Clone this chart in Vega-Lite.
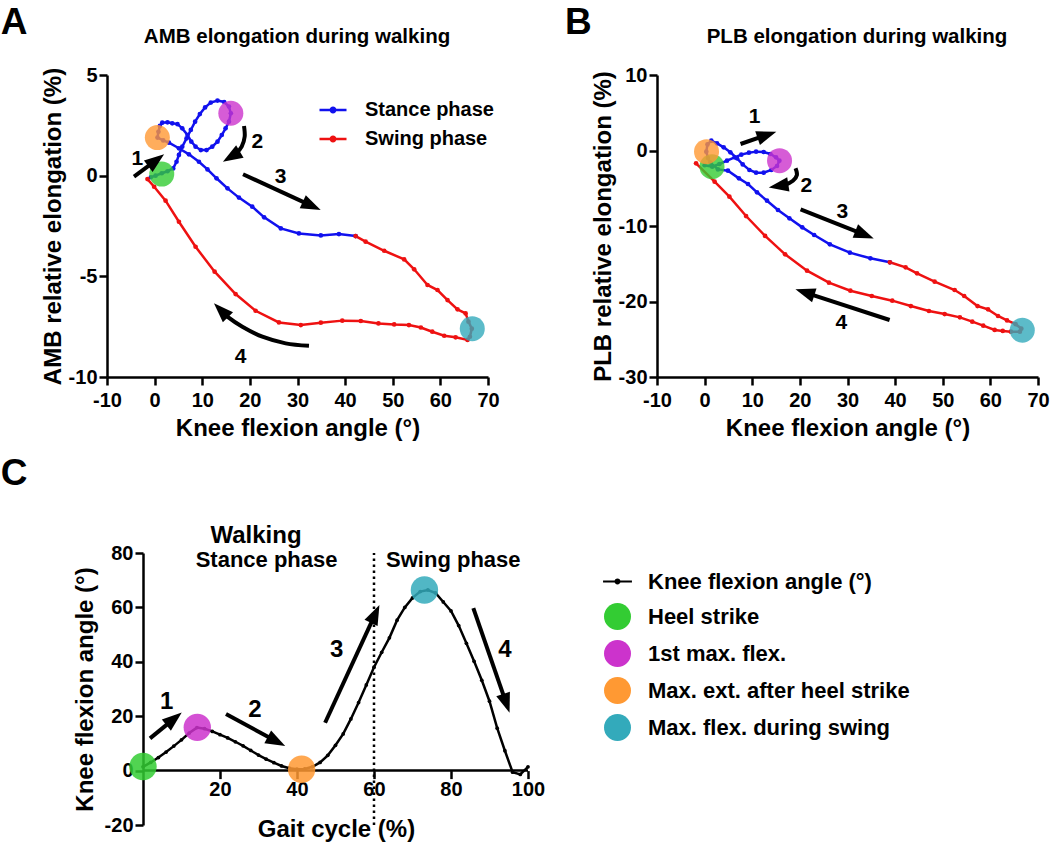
{
"$schema": "https://vega.github.io/schema/vega-lite/v6.json",
"autosize": "none",
"padding": {"left": 107, "top": 75, "right": 943, "bottom": 774},
"background": "white",
"config": {
  "font": "Liberation Sans",
  "view": {"stroke": null},
  "axis": {"domainColor": "black", "domainWidth": 2.5, "tickColor": "black", "tickWidth": 2.5, "tickSize": 8, "labelFont": "Liberation Sans", "labelFontSize": 20, "labelFontWeight": "bold", "labelColor": "black", "titleFont": "Liberation Sans", "titleFontSize": 24, "titleFontWeight": "bold", "titleColor": "black", "grid": false, "labelOverlap": false, "labelFlush": false, "labelExpr": "replace(datum.label, '−', '-')"},
  "legend": {"labelFont": "Liberation Sans", "labelFontWeight": "bold", "labelColor": "black", "padding": 0, "labelLimit": 400},
  "text": {"font": "Liberation Sans", "fontWeight": "bold", "color": "black"}
},
"datasets": {
  "curves": [
    {"p":"A","ph":"Stance phase","s":1,"x":-0.8,"y":-0.08},
    {"p":"A","ph":"Stance phase","s":2,"x":0.2,"y":0.0},
    {"p":"A","ph":"Stance phase","s":3,"x":1.5,"y":0.12},
    {"p":"A","ph":"Stance phase","s":4,"x":2.7,"y":0.22},
    {"p":"A","ph":"Stance phase","s":5,"x":3.9,"y":0.36},
    {"p":"A","ph":"Stance phase","s":6,"x":4.6,"y":0.69},
    {"p":"A","ph":"Stance phase","s":7,"x":5.1,"y":1.03},
    {"p":"A","ph":"Stance phase","s":8,"x":5.8,"y":1.44},
    {"p":"A","ph":"Stance phase","s":9,"x":6.7,"y":1.85},
    {"p":"A","ph":"Stance phase","s":10,"x":7.6,"y":2.27},
    {"p":"A","ph":"Stance phase","s":11,"x":8.5,"y":2.68},
    {"p":"A","ph":"Stance phase","s":12,"x":9.5,"y":3.06},
    {"p":"A","ph":"Stance phase","s":13,"x":10.6,"y":3.39},
    {"p":"A","ph":"Stance phase","s":14,"x":11.8,"y":3.63},
    {"p":"A","ph":"Stance phase","s":15,"x":13.2,"y":3.73},
    {"p":"A","ph":"Stance phase","s":16,"x":14.6,"y":3.66},
    {"p":"A","ph":"Stance phase","s":17,"x":15.6,"y":3.43},
    {"p":"A","ph":"Stance phase","s":18,"x":16.0,"y":3.10},
    {"p":"A","ph":"Stance phase","s":19,"x":15.6,"y":2.68},
    {"p":"A","ph":"Stance phase","s":20,"x":14.9,"y":2.35},
    {"p":"A","ph":"Stance phase","s":21,"x":14.1,"y":2.02},
    {"p":"A","ph":"Stance phase","s":22,"x":13.2,"y":1.69},
    {"p":"A","ph":"Stance phase","s":23,"x":12.1,"y":1.44},
    {"p":"A","ph":"Stance phase","s":24,"x":10.9,"y":1.27},
    {"p":"A","ph":"Stance phase","s":25,"x":9.7,"y":1.27},
    {"p":"A","ph":"Stance phase","s":26,"x":8.6,"y":1.44},
    {"p":"A","ph":"Stance phase","s":27,"x":7.7,"y":1.69},
    {"p":"A","ph":"Stance phase","s":28,"x":6.9,"y":2.02},
    {"p":"A","ph":"Stance phase","s":29,"x":5.8,"y":2.35},
    {"p":"A","ph":"Stance phase","s":30,"x":4.8,"y":2.56},
    {"p":"A","ph":"Stance phase","s":31,"x":3.7,"y":2.60},
    {"p":"A","ph":"Stance phase","s":32,"x":2.7,"y":2.65},
    {"p":"A","ph":"Stance phase","s":33,"x":1.6,"y":2.63},
    {"p":"A","ph":"Stance phase","s":34,"x":1.1,"y":2.47},
    {"p":"A","ph":"Stance phase","s":35,"x":0.8,"y":2.18},
    {"p":"A","ph":"Stance phase","s":36,"x":0.6,"y":1.89},
    {"p":"A","ph":"Stance phase","s":37,"x":1.8,"y":1.75},
    {"p":"A","ph":"Stance phase","s":38,"x":3.0,"y":1.64},
    {"p":"A","ph":"Stance phase","s":39,"x":5.1,"y":1.36},
    {"p":"A","ph":"Stance phase","s":40,"x":7.2,"y":1.06},
    {"p":"A","ph":"Stance phase","s":41,"x":9.3,"y":0.69},
    {"p":"A","ph":"Stance phase","s":42,"x":11.1,"y":0.31},
    {"p":"A","ph":"Stance phase","s":43,"x":13.0,"y":-0.13},
    {"p":"A","ph":"Stance phase","s":44,"x":15.3,"y":-0.63},
    {"p":"A","ph":"Stance phase","s":45,"x":17.7,"y":-1.09},
    {"p":"A","ph":"Stance phase","s":46,"x":20.5,"y":-1.54},
    {"p":"A","ph":"Stance phase","s":47,"x":23.0,"y":-2.07},
    {"p":"A","ph":"Stance phase","s":48,"x":26.5,"y":-2.62},
    {"p":"A","ph":"Stance phase","s":49,"x":30.3,"y":-2.87},
    {"p":"A","ph":"Stance phase","s":50,"x":34.9,"y":-2.97},
    {"p":"A","ph":"Stance phase","s":51,"x":38.7,"y":-2.90},
    {"p":"A","ph":"Stance phase","s":52,"x":42.2,"y":-3.00},
    {"p":"A","ph":"Swing phase","s":1,"x":42.2,"y":-3.00},
    {"p":"A","ph":"Swing phase","s":2,"x":44.3,"y":-3.28},
    {"p":"A","ph":"Swing phase","s":3,"x":48.2,"y":-3.73},
    {"p":"A","ph":"Swing phase","s":4,"x":52.4,"y":-4.16},
    {"p":"A","ph":"Swing phase","s":5,"x":54.5,"y":-4.65},
    {"p":"A","ph":"Swing phase","s":6,"x":57.3,"y":-5.43},
    {"p":"A","ph":"Swing phase","s":7,"x":59.4,"y":-5.68},
    {"p":"A","ph":"Swing phase","s":8,"x":61.5,"y":-6.18},
    {"p":"A","ph":"Swing phase","s":9,"x":63.6,"y":-6.64},
    {"p":"A","ph":"Swing phase","s":10,"x":65.3,"y":-6.84},
    {"p":"A","ph":"Swing phase","s":11,"x":65.9,"y":-7.25},
    {"p":"A","ph":"Swing phase","s":12,"x":66.6,"y":-7.60},
    {"p":"A","ph":"Swing phase","s":13,"x":66.2,"y":-8.00},
    {"p":"A","ph":"Swing phase","s":14,"x":65.7,"y":-8.16},
    {"p":"A","ph":"Swing phase","s":15,"x":63.2,"y":-8.03},
    {"p":"A","ph":"Swing phase","s":16,"x":60.8,"y":-7.95},
    {"p":"A","ph":"Swing phase","s":17,"x":58.3,"y":-7.75},
    {"p":"A","ph":"Swing phase","s":18,"x":55.9,"y":-7.54},
    {"p":"A","ph":"Swing phase","s":19,"x":53.4,"y":-7.42},
    {"p":"A","ph":"Swing phase","s":20,"x":50.3,"y":-7.39},
    {"p":"A","ph":"Swing phase","s":21,"x":47.0,"y":-7.34},
    {"p":"A","ph":"Swing phase","s":22,"x":43.3,"y":-7.22},
    {"p":"A","ph":"Swing phase","s":23,"x":39.4,"y":-7.20},
    {"p":"A","ph":"Swing phase","s":24,"x":34.9,"y":-7.30},
    {"p":"A","ph":"Swing phase","s":25,"x":30.7,"y":-7.42},
    {"p":"A","ph":"Swing phase","s":26,"x":26.1,"y":-7.29},
    {"p":"A","ph":"Swing phase","s":27,"x":21.2,"y":-6.71},
    {"p":"A","ph":"Swing phase","s":28,"x":17.0,"y":-5.88},
    {"p":"A","ph":"Swing phase","s":29,"x":12.6,"y":-4.77},
    {"p":"A","ph":"Swing phase","s":30,"x":8.6,"y":-3.53},
    {"p":"A","ph":"Swing phase","s":31,"x":5.1,"y":-2.29},
    {"p":"A","ph":"Swing phase","s":32,"x":2.3,"y":-1.24},
    {"p":"A","ph":"Swing phase","s":33,"x":-0.1,"y":-0.55},
    {"p":"A","ph":"Swing phase","s":34,"x":-1.5,"y":-0.17},
    {"p":"B","ph":"Stance phase","s":1,"x":0.0,"y":-1.95},
    {"p":"B","ph":"Stance phase","s":2,"x":1.6,"y":-2.14},
    {"p":"B","ph":"Stance phase","s":3,"x":3.1,"y":-1.79},
    {"p":"B","ph":"Stance phase","s":4,"x":4.7,"y":-1.35},
    {"p":"B","ph":"Stance phase","s":5,"x":6.3,"y":-0.91},
    {"p":"B","ph":"Stance phase","s":6,"x":7.7,"y":-0.55},
    {"p":"B","ph":"Stance phase","s":7,"x":9.3,"y":-0.29},
    {"p":"B","ph":"Stance phase","s":8,"x":10.8,"y":-0.15},
    {"p":"B","ph":"Stance phase","s":9,"x":12.4,"y":-0.20},
    {"p":"B","ph":"Stance phase","s":10,"x":13.8,"y":-0.46},
    {"p":"B","ph":"Stance phase","s":11,"x":15.0,"y":-0.91},
    {"p":"B","ph":"Stance phase","s":12,"x":15.7,"y":-1.35},
    {"p":"B","ph":"Stance phase","s":13,"x":15.2,"y":-2.05},
    {"p":"B","ph":"Stance phase","s":14,"x":14.0,"y":-2.58},
    {"p":"B","ph":"Stance phase","s":15,"x":12.4,"y":-2.94},
    {"p":"B","ph":"Stance phase","s":16,"x":10.8,"y":-2.94},
    {"p":"B","ph":"Stance phase","s":17,"x":9.4,"y":-2.58},
    {"p":"B","ph":"Stance phase","s":18,"x":8.0,"y":-1.84},
    {"p":"B","ph":"Stance phase","s":19,"x":6.8,"y":-1.04},
    {"p":"B","ph":"Stance phase","s":20,"x":5.4,"y":-0.24},
    {"p":"B","ph":"Stance phase","s":21,"x":4.0,"y":0.42},
    {"p":"B","ph":"Stance phase","s":22,"x":2.6,"y":0.95},
    {"p":"B","ph":"Stance phase","s":23,"x":1.4,"y":1.30},
    {"p":"B","ph":"Stance phase","s":24,"x":0.6,"y":0.80},
    {"p":"B","ph":"Stance phase","s":25,"x":0.35,"y":-0.15},
    {"p":"B","ph":"Stance phase","s":26,"x":0.7,"y":-1.0},
    {"p":"B","ph":"Stance phase","s":27,"x":1.2,"y":-1.6},
    {"p":"B","ph":"Stance phase","s":28,"x":2.8,"y":-2.5},
    {"p":"B","ph":"Stance phase","s":29,"x":4.9,"y":-2.67},
    {"p":"B","ph":"Stance phase","s":30,"x":7.2,"y":-3.69},
    {"p":"B","ph":"Stance phase","s":31,"x":9.1,"y":-4.44},
    {"p":"B","ph":"Stance phase","s":32,"x":11.0,"y":-5.54},
    {"p":"B","ph":"Stance phase","s":33,"x":13.1,"y":-6.65},
    {"p":"B","ph":"Stance phase","s":34,"x":15.4,"y":-7.88},
    {"p":"B","ph":"Stance phase","s":35,"x":17.8,"y":-8.98},
    {"p":"B","ph":"Stance phase","s":36,"x":20.5,"y":-10.18},
    {"p":"B","ph":"Stance phase","s":37,"x":23.0,"y":-11.19},
    {"p":"B","ph":"Stance phase","s":38,"x":26.3,"y":-12.43},
    {"p":"B","ph":"Stance phase","s":39,"x":30.5,"y":-13.53},
    {"p":"B","ph":"Stance phase","s":40,"x":34.8,"y":-14.28},
    {"p":"B","ph":"Stance phase","s":41,"x":38.9,"y":-14.81},
    {"p":"B","ph":"Swing phase","s":1,"x":38.9,"y":-14.81},
    {"p":"B","ph":"Swing phase","s":2,"x":42.2,"y":-15.47},
    {"p":"B","ph":"Swing phase","s":3,"x":44.6,"y":-16.27},
    {"p":"B","ph":"Swing phase","s":4,"x":48.3,"y":-17.37},
    {"p":"B","ph":"Swing phase","s":5,"x":52.5,"y":-18.48},
    {"p":"B","ph":"Swing phase","s":6,"x":54.5,"y":-19.27},
    {"p":"B","ph":"Swing phase","s":7,"x":57.3,"y":-20.60},
    {"p":"B","ph":"Swing phase","s":8,"x":59.5,"y":-21.04},
    {"p":"B","ph":"Swing phase","s":9,"x":61.6,"y":-21.92},
    {"p":"B","ph":"Swing phase","s":10,"x":63.5,"y":-22.5},
    {"p":"B","ph":"Swing phase","s":11,"x":65.3,"y":-23.0},
    {"p":"B","ph":"Swing phase","s":12,"x":66.5,"y":-23.6},
    {"p":"B","ph":"Swing phase","s":13,"x":66.2,"y":-24.0},
    {"p":"B","ph":"Swing phase","s":14,"x":64.3,"y":-24.0},
    {"p":"B","ph":"Swing phase","s":15,"x":62.6,"y":-23.9},
    {"p":"B","ph":"Swing phase","s":16,"x":60.9,"y":-23.77},
    {"p":"B","ph":"Swing phase","s":17,"x":58.5,"y":-23.20},
    {"p":"B","ph":"Swing phase","s":18,"x":56.2,"y":-22.67},
    {"p":"B","ph":"Swing phase","s":19,"x":53.6,"y":-22.10},
    {"p":"B","ph":"Swing phase","s":20,"x":50.4,"y":-21.66},
    {"p":"B","ph":"Swing phase","s":21,"x":47.1,"y":-21.26},
    {"p":"B","ph":"Swing phase","s":22,"x":43.3,"y":-20.60},
    {"p":"B","ph":"Swing phase","s":23,"x":39.4,"y":-19.89},
    {"p":"B","ph":"Swing phase","s":24,"x":35.1,"y":-19.27},
    {"p":"B","ph":"Swing phase","s":25,"x":30.6,"y":-18.57},
    {"p":"B","ph":"Swing phase","s":26,"x":26.1,"y":-17.51},
    {"p":"B","ph":"Swing phase","s":27,"x":21.5,"y":-15.92},
    {"p":"B","ph":"Swing phase","s":28,"x":16.9,"y":-13.75},
    {"p":"B","ph":"Swing phase","s":29,"x":12.7,"y":-11.32},
    {"p":"B","ph":"Swing phase","s":30,"x":8.7,"y":-8.68},
    {"p":"B","ph":"Swing phase","s":31,"x":5.2,"y":-6.11},
    {"p":"B","ph":"Swing phase","s":32,"x":2.1,"y":-4.13},
    {"p":"B","ph":"Swing phase","s":33,"x":-1.8,"y":-1.70}
  ],
  "events": [
    {"p":"A","ev":"Heel strike","x":1.5,"y":0.08},
    {"p":"A","ev":"1st max. flex.","x":16.0,"y":3.1},
    {"p":"A","ev":"Max. ext. after heel strike","x":0.57,"y":1.89},
    {"p":"A","ev":"Max. flex. during swing","x":66.7,"y":-7.6},
    {"p":"B","ev":"Heel strike","x":1.55,"y":-2.14},
    {"p":"B","ev":"1st max. flex.","x":15.73,"y":-1.35},
    {"p":"B","ev":"Max. ext. after heel strike","x":0.4,"y":-0.15},
    {"p":"B","ev":"Max. flex. during swing","x":66.7,"y":-23.8},
    {"p":"C","ev":"Heel strike","x":0,"y":1.5},
    {"p":"C","ev":"1st max. flex.","x":14.1,"y":15.9},
    {"p":"C","ev":"Max. ext. after heel strike","x":41.2,"y":0.5},
    {"p":"C","ev":"Max. flex. during swing","x":73.1,"y":66.4}
  ],
  "knee": [
    {"x":0,"y":1.4},{"x":2,"y":3.0},{"x":4,"y":4.8},{"x":6,"y":6.8},{"x":8,"y":9.0},{"x":10,"y":11.3},
    {"x":12,"y":13.8},{"x":14,"y":15.8},{"x":16,"y":15.4},{"x":18,"y":14.4},{"x":20,"y":13.2},{"x":22,"y":12.0},
    {"x":24,"y":10.6},{"x":26,"y":9.1},{"x":28,"y":7.4},{"x":30,"y":5.7},{"x":32,"y":4.2},{"x":34,"y":2.9},
    {"x":36,"y":1.7},{"x":38,"y":0.9},{"x":40,"y":0.5},{"x":42,"y":0.6},{"x":44,"y":1.4},{"x":46,"y":3.0},
    {"x":48,"y":5.6},{"x":50,"y":9.3},{"x":52,"y":13.5},{"x":54,"y":19.0},{"x":56,"y":25.0},{"x":58,"y":31.5},
    {"x":60,"y":38.0},{"x":62,"y":43.5},{"x":64,"y":48.8},{"x":66,"y":55.3},{"x":68,"y":60.0},{"x":70,"y":63.5},
    {"x":72,"y":65.8},{"x":74,"y":66.4},{"x":76,"y":65.3},{"x":78,"y":62.0},{"x":80,"y":58.7},{"x":82,"y":53.3},
    {"x":84,"y":46.8},{"x":86,"y":40.2},{"x":88,"y":33.2},{"x":90,"y":25.5},{"x":92,"y":15.6},{"x":94,"y":7.3},
    {"x":96,"y":-0.6},{"x":98,"y":-1.4},{"x":100,"y":1.4}
  ],
  "vline": [{"x":60,"y":-20,"y2":80}],
  "hline": [{"x":0,"x2":100,"y":0}],
  "arrows": [
    {"p":"A","a":1,"s":1,"x":-4.33,"y":-0.05},{"p":"A","a":1,"s":2,"x":0.63,"y":0.82},
    {"p":"A","a":2,"s":1,"x":18.77,"y":2.47},{"p":"A","a":2,"s":2,"x":18.91,"y":1.94},{"p":"A","a":2,"s":3,"x":18.28,"y":1.44},{"p":"A","a":2,"s":4,"x":17.02,"y":1.08},{"p":"A","a":2,"s":5,"x":15.79,"y":0.90},
    {"p":"A","a":3,"s":1,"x":18.56,"y":0.07},{"p":"A","a":3,"s":2,"x":33.33,"y":-1.54},
    {"p":"A","a":4,"s":1,"x":32.41,"y":-8.45},{"p":"A","a":4,"s":2,"x":27.51,"y":-8.33},{"p":"A","a":4,"s":3,"x":22.62,"y":-8.0},{"p":"A","a":4,"s":4,"x":18.42,"y":-7.5},{"p":"A","a":4,"s":5,"x":15.27,"y":-7.0},{"p":"A","a":4,"s":6,"x":13.66,"y":-6.62},
    {"p":"B","a":1,"s":1,"x":7.54,"y":0.86},{"p":"B","a":1,"s":2,"x":13.44,"y":2.14},
    {"p":"B","a":2,"s":1,"x":19.09,"y":-2.36},{"p":"B","a":2,"s":2,"x":19.38,"y":-3.25},{"p":"B","a":2,"s":3,"x":18.54,"y":-4.0},{"p":"B","a":2,"s":4,"x":16.79,"y":-4.57},{"p":"B","a":2,"s":5,"x":15.15,"y":-4.72},
    {"p":"B","a":3,"s":1,"x":20.15,"y":-7.79},{"p":"B","a":3,"s":2,"x":33.93,"y":-11.24},
    {"p":"B","a":4,"s":1,"x":38.85,"y":-22.45},{"p":"B","a":4,"s":2,"x":20.69,"y":-18.72},
    {"p":"C","a":1,"s":1,"x":1.82,"y":11.86},{"p":"C","a":1,"s":2,"x":8.43,"y":19.46},
    {"p":"C","a":2,"s":1,"x":21.56,"y":20.8},{"p":"C","a":2,"s":2,"x":35.08,"y":10.4},
    {"p":"C","a":3,"s":1,"x":47.3,"y":17.6},{"p":"C","a":3,"s":2,"x":60.52,"y":58.2},
    {"p":"C","a":4,"s":1,"x":85.8,"y":59.7},{"p":"C","a":4,"s":2,"x":94.52,"y":24.1}
  ],
  "heads": [
    {"p":"A","a":1,"x":0.63,"y":0.82,"heading":53},
    {"p":"A","a":2,"x":15.79,"y":0.90,"heading":239},
    {"p":"A","a":3,"x":33.33,"y":-1.54,"heading":115},
    {"p":"A","a":4,"x":13.66,"y":-6.62,"heading":315},
    {"p":"B","a":1,"x":13.44,"y":2.14,"heading":71},
    {"p":"B","a":2,"x":15.15,"y":-4.72,"heading":261},
    {"p":"B","a":3,"x":33.93,"y":-11.24,"heading":112},
    {"p":"B","a":4,"x":20.69,"y":-18.72,"heading":288},
    {"p":"C","a":1,"x":8.43,"y":19.46,"heading":51},
    {"p":"C","a":2,"x":35.08,"y":10.4,"heading":118},
    {"p":"C","a":3,"x":60.52,"y":58.2,"heading":25},
    {"p":"C","a":4,"x":94.52,"y":24.1,"heading":161}
  ],
  "labels": [
    {"p":"A","k":"num","t":"1","x":-3.63,"y":0.83},
    {"p":"A","k":"num","t":"2","x":21.56,"y":1.69},
    {"p":"A","k":"num","t":"3","x":26.47,"y":-0.08},
    {"p":"A","k":"num","t":"4","x":18.06,"y":-8.99},
    {"p":"A","k":"letter","t":"A","x":-29.5,"y":7.06},
    {"p":"A","k":"title","t":"AMB elongation during walking","x":29.9,"y":6.59},
    {"p":"B","k":"num","t":"1","x":10.48,"y":4.39},
    {"p":"B","k":"num","t":"2","x":21.34,"y":-4.70},
    {"p":"B","k":"num","t":"3","x":28.91,"y":-8.10},
    {"p":"B","k":"num","t":"4","x":28.70,"y":-22.89},
    {"p":"B","k":"letter","t":"B","x":-26.5,"y":15.48},
    {"p":"B","k":"title","t":"PLB elongation during walking","x":32.0,"y":14.24},
    {"p":"C","k":"num","t":"1","x":6.15,"y":25.3},
    {"p":"C","k":"num","t":"2","x":29.1,"y":22.3},
    {"p":"C","k":"num","t":"3","x":50.3,"y":44.3},
    {"p":"C","k":"num","t":"4","x":94.0,"y":44.3},
    {"p":"C","k":"letter","t":"C","x":-33.5,"y":105},
    {"p":"C","k":"title","t":"Walking","x":29.35,"y":83.6},
    {"p":"C","k":"phase","t":"Stance phase","x":32.1,"y":74.9},
    {"p":"C","k":"phase","t":"Swing phase","x":80.6,"y":74.9}
  ]
},
"columns": 2,
"spacing": {"row": 176, "column": 129},
"bounds": "flush",
"resolve": {"scale": {"color": "independent", "fill": "independent", "shape": "independent"}, "legend": {"color": "independent", "fill": "independent", "shape": "independent"}},
"concat": [
  {
    "width": 381, "height": 302,
    "encoding": {
      "x": {"field": "x", "type": "quantitative", "scale": {"domain": [-10, 70], "nice": false, "zero": false}, "axis": {"title": "Knee flexion angle (°)", "values": [-10, 0, 10, 20, 30, 40, 50, 60, 70], "labelPadding": 5, "titlePadding": 6}},
      "y": {"field": "y", "type": "quantitative", "scale": {"domain": [-10, 5], "nice": false, "zero": false}, "axis": {"title": "AMB relative elongation (%)", "values": [-10, -5, 0, 5], "labelPadding": 2, "titlePadding": 3}}
    },
    "layer": [
      {"data": {"name": "curves"}, "transform": [{"filter": "datum.p === 'A'"}], "mark": {"type": "line", "strokeWidth": 2.5},
       "encoding": {"color": {"field": "ph", "type": "nominal", "scale": {"domain": ["Stance phase", "Swing phase"], "range": ["#1111ee", "#ee1111"]},
         "legend": {"title": null, "orient": "none", "legendX": 211, "legendY": 20, "symbolType": "M-1,0H1M0.16,0A0.16,0.16 0 1,1 -0.16,0A0.16,0.16 0 1,1 0.16,0", "symbolSize": 729, "symbolStrokeWidth": 2.5, "labelFontSize": 20, "labelOffset": 17, "rowPadding": 4, "padding": 0}},
         "order": {"field": "s", "type": "quantitative"}}},
      {"data": {"name": "curves"}, "transform": [{"filter": "datum.p === 'A'"}], "mark": {"type": "point", "filled": true, "size": 22, "opacity": 1, "strokeWidth": 0},
       "encoding": {"color": {"field": "ph", "type": "nominal", "scale": {"domain": ["Stance phase", "Swing phase"], "range": ["#1111ee", "#ee1111"]},
         "legend": {"title": null, "orient": "none", "legendX": 211, "legendY": 20, "symbolType": "M-1,0H1M0.16,0A0.16,0.16 0 1,1 -0.16,0A0.16,0.16 0 1,1 0.16,0", "symbolSize": 729, "symbolStrokeWidth": 2.5, "labelFontSize": 20, "labelOffset": 17, "rowPadding": 4, "padding": 0}}}},
      {"data": {"name": "events"}, "transform": [{"filter": "datum.p === 'A'"}], "mark": {"type": "circle", "size": 625, "opacity": 0.8},
       "encoding": {"fill": {"field": "ev", "type": "nominal", "scale": {"domain": ["Heel strike", "1st max. flex.", "Max. ext. after heel strike", "Max. flex. during swing"], "range": ["#33cc33", "#cc33cc", "#ff9933", "#33aabb"]}, "legend": null}}},
      {"data": {"name": "arrows"}, "transform": [{"filter": "datum.p === 'A'"}], "mark": {"type": "line", "color": "black", "strokeWidth": 4, "interpolate": "cardinal"},
       "encoding": {"detail": {"field": "a", "type": "nominal"}, "order": {"field": "s", "type": "quantitative"}}},
      {"data": {"name": "heads"}, "transform": [{"filter": "datum.p === 'A'"}], "mark": {"type": "point", "shape": "M0,-0.9L-0.8,1.3L0.8,1.3Z", "filled": true, "color": "black", "size": 324, "opacity": 1, "strokeWidth": 0},
       "encoding": {"angle": {"field": "heading", "type": "quantitative", "scale": null}}},
      {"data": {"name": "labels"}, "transform": [{"filter": "datum.p === 'A' && datum.k === 'num'"}], "mark": {"type": "text", "fontSize": 21, "fontWeight": "bold", "baseline": "middle", "align": "center"}, "encoding": {"text": {"field": "t"}}},
      {"data": {"name": "labels"}, "transform": [{"filter": "datum.p === 'A' && datum.k === 'letter'"}], "mark": {"type": "text", "fontSize": 37, "fontWeight": "bold", "baseline": "alphabetic", "align": "center"}, "encoding": {"text": {"field": "t"}}},
      {"data": {"name": "labels"}, "transform": [{"filter": "datum.p === 'A' && datum.k === 'title'"}], "mark": {"type": "text", "fontSize": 20.5, "fontWeight": "bold", "baseline": "alphabetic", "align": "center"}, "encoding": {"text": {"field": "t"}}}
    ]
  },
  {
    "width": 381, "height": 302,
    "encoding": {
      "x": {"field": "x", "type": "quantitative", "scale": {"domain": [-10, 70], "nice": false, "zero": false}, "axis": {"title": "Knee flexion angle (°)", "values": [-10, 0, 10, 20, 30, 40, 50, 60, 70], "labelPadding": 5, "titlePadding": 6}},
      "y": {"field": "y", "type": "quantitative", "scale": {"domain": [-30, 10], "nice": false, "zero": false}, "axis": {"title": "PLB relative elongation (%)", "values": [-30, -20, -10, 0, 10], "labelPadding": 2, "titlePadding": 3}}
    },
    "layer": [
      {"data": {"name": "curves"}, "transform": [{"filter": "datum.p === 'B'"}], "mark": {"type": "line", "strokeWidth": 2.5},
       "encoding": {"color": {"field": "ph", "type": "nominal", "scale": {"domain": ["Stance phase", "Swing phase"], "range": ["#1111ee", "#ee1111"]}, "legend": null},
         "order": {"field": "s", "type": "quantitative"}}},
      {"data": {"name": "curves"}, "transform": [{"filter": "datum.p === 'B'"}], "mark": {"type": "point", "filled": true, "size": 22, "opacity": 1, "strokeWidth": 0},
       "encoding": {"color": {"field": "ph", "type": "nominal", "scale": {"domain": ["Stance phase", "Swing phase"], "range": ["#1111ee", "#ee1111"]}, "legend": null}}},
      {"data": {"name": "events"}, "transform": [{"filter": "datum.p === 'B'"}], "mark": {"type": "circle", "size": 625, "opacity": 0.8},
       "encoding": {"fill": {"field": "ev", "type": "nominal", "scale": {"domain": ["Heel strike", "1st max. flex.", "Max. ext. after heel strike", "Max. flex. during swing"], "range": ["#33cc33", "#cc33cc", "#ff9933", "#33aabb"]}, "legend": null}}},
      {"data": {"name": "arrows"}, "transform": [{"filter": "datum.p === 'B'"}], "mark": {"type": "line", "color": "black", "strokeWidth": 4, "interpolate": "cardinal"},
       "encoding": {"detail": {"field": "a", "type": "nominal"}, "order": {"field": "s", "type": "quantitative"}}},
      {"data": {"name": "heads"}, "transform": [{"filter": "datum.p === 'B'"}], "mark": {"type": "point", "shape": "M0,-0.9L-0.8,1.3L0.8,1.3Z", "filled": true, "color": "black", "size": 324, "opacity": 1, "strokeWidth": 0},
       "encoding": {"angle": {"field": "heading", "type": "quantitative", "scale": null}}},
      {"data": {"name": "labels"}, "transform": [{"filter": "datum.p === 'B' && datum.k === 'num'"}], "mark": {"type": "text", "fontSize": 21, "fontWeight": "bold", "baseline": "middle", "align": "center"}, "encoding": {"text": {"field": "t"}}},
      {"data": {"name": "labels"}, "transform": [{"filter": "datum.p === 'B' && datum.k === 'letter'"}], "mark": {"type": "text", "fontSize": 37, "fontWeight": "bold", "baseline": "alphabetic", "align": "center"}, "encoding": {"text": {"field": "t"}}},
      {"data": {"name": "labels"}, "transform": [{"filter": "datum.p === 'B' && datum.k === 'title'"}], "mark": {"type": "text", "fontSize": 20.5, "fontWeight": "bold", "baseline": "alphabetic", "align": "center"}, "encoding": {"text": {"field": "t"}}}
    ]
  },
  {
    "width": 421, "height": 272,
    "encoding": {
      "x": {"field": "x", "type": "quantitative", "scale": {"domain": [-9.35, 100], "nice": false, "zero": false}, "axis": {"title": "Gait cycle (%)", "values": [20, 40, 60, 80, 100], "domain": false, "offset": -54.4, "labelPadding": 1, "titlePadding": 18, "titleX": 229}},
      "y": {"field": "y", "type": "quantitative", "scale": {"domain": [-20, 80], "nice": false, "zero": false}, "axis": {"title": "Knee flexion angle (°)", "values": [-20, 0, 20, 40, 60, 80], "offset": -36, "labelPadding": 2, "titlePadding": 7}}
    },
    "layer": [
      {"data": {"name": "hline"}, "mark": {"type": "rule", "color": "black", "strokeWidth": 2.5},
       "encoding": {"x2": {"field": "x2"}}},
      {"data": {"name": "vline"}, "mark": {"type": "rule", "color": "black", "strokeWidth": 2.5, "strokeDash": [2.5, 3.5]},
       "encoding": {"y2": {"field": "y2"}}},
      {"data": {"name": "knee"}, "mark": {"type": "line", "color": "black", "strokeWidth": 2.5}, "encoding": {}},
      {"data": {"name": "knee"}, "mark": {"type": "point", "filled": true, "color": "black", "size": 14, "opacity": 1, "strokeWidth": 0}, "encoding": {}},
      {"data": {"name": "events"}, "transform": [{"filter": "datum.p === 'C'"}], "mark": {"type": "point", "filled": true, "size": 750, "opacity": 0.85, "strokeWidth": 0},
       "encoding": {
         "fill": {"field": "ev", "type": "nominal", "scale": {"domain": ["Knee flexion angle (°)", "Heel strike", "1st max. flex.", "Max. ext. after heel strike", "Max. flex. during swing"], "range": ["black", "#33cc33", "#cc33cc", "#ff9933", "#33aabb"]},
           "legend": {"title": null, "orient": "none", "legendX": 497, "legendY": 15, "symbolSize": 729, "symbolOpacity": 1, "symbolStrokeWidth": 0, "labelFontSize": 22, "labelOffset": 17, "rowPadding": 10, "padding": 0}},
         "shape": {"field": "ev", "type": "nominal", "scale": {"domain": ["Knee flexion angle (°)", "Heel strike", "1st max. flex.", "Max. ext. after heel strike", "Max. flex. during swing"], "range": ["M-1.07,-0.08H1.07V0.08H-1.07Z M0.22,0A0.22,0.22 0 1,1 -0.22,0A0.22,0.22 0 1,1 0.22,0Z", "circle", "circle", "circle", "circle"]},
           "legend": {"title": null, "orient": "none", "legendX": 497, "legendY": 15, "symbolSize": 729, "symbolOpacity": 1, "symbolStrokeWidth": 0, "labelFontSize": 22, "labelOffset": 17, "rowPadding": 10, "padding": 0}}
       }},
      {"data": {"name": "arrows"}, "transform": [{"filter": "datum.p === 'C'"}], "mark": {"type": "line", "color": "black", "strokeWidth": 4},
       "encoding": {"detail": {"field": "a", "type": "nominal"}, "order": {"field": "s", "type": "quantitative"}}},
      {"data": {"name": "heads"}, "transform": [{"filter": "datum.p === 'C'"}], "mark": {"type": "point", "shape": "M0,-0.9L-0.8,1.3L0.8,1.3Z", "filled": true, "color": "black", "size": 324, "opacity": 1, "strokeWidth": 0},
       "encoding": {"angle": {"field": "heading", "type": "quantitative", "scale": null}}},
      {"data": {"name": "labels"}, "transform": [{"filter": "datum.p === 'C' && datum.k === 'num'"}], "mark": {"type": "text", "fontSize": 24, "fontWeight": "bold", "baseline": "middle", "align": "center"}, "encoding": {"text": {"field": "t"}}},
      {"data": {"name": "labels"}, "transform": [{"filter": "datum.p === 'C' && datum.k === 'letter'"}], "mark": {"type": "text", "fontSize": 37, "fontWeight": "bold", "baseline": "alphabetic", "align": "center"}, "encoding": {"text": {"field": "t"}}},
      {"data": {"name": "labels"}, "transform": [{"filter": "datum.p === 'C' && datum.k === 'title'"}], "mark": {"type": "text", "fontSize": 24, "fontWeight": "bold", "baseline": "alphabetic", "align": "center"}, "encoding": {"text": {"field": "t"}}},
      {"data": {"name": "labels"}, "transform": [{"filter": "datum.p === 'C' && datum.k === 'phase'"}], "mark": {"type": "text", "fontSize": 22, "fontWeight": "bold", "baseline": "alphabetic", "align": "center"}, "encoding": {"text": {"field": "t"}}}
    ]
  }
]
}
